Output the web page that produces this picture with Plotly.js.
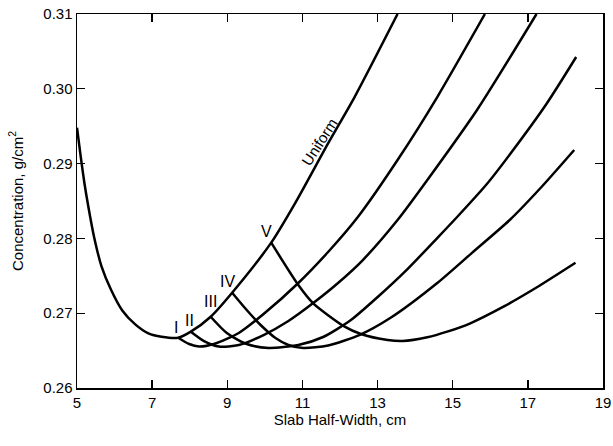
<!DOCTYPE html>
<html>
<head>
<meta charset="utf-8">
<script src="https://cdn.plot.ly/plotly-3.0.1.min.js"></script>
<style>html,body{margin:0;padding:0;background:#fff;}#chart{width:613px;height:446px;}</style>
</head>
<body>
<div id="chart"></div>
<script>
// Uniform loading curve
const uniformX = [5.00, 5.10, 5.20, 5.30, 5.45, 5.65, 5.90, 6.20, 6.55, 6.90, 7.25, 7.694, 8.030, 8.558, 9.129, 10.169, 10.803, 11.683, 12.388, 13.532];
const uniformY = [0.2948, 0.2909, 0.2873, 0.2843, 0.2803, 0.2763, 0.2732, 0.2704, 0.2685, 0.2673, 0.26685, 0.26672, 0.26753, 0.26953, 0.27274, 0.27943, 0.28469, 0.29271, 0.2989, 0.3100];

// Branch I
const branchIX = [7.694, 7.985, 8.249, 8.645, 9.306, 9.966, 10.891, 11.683, 12.475, 13.532, 14.589, 15.857];
const branchIY = [0.26672, 0.26588, 0.26555, 0.26588, 0.26735, 0.26989, 0.27404, 0.27818, 0.28286, 0.29048, 0.29890, 0.3100];

// Branch II
const branchIIX = [8.030, 8.381, 8.777, 9.306, 9.966, 10.627, 11.287, 11.948, 12.608, 13.532, 14.325, 15.646, 17.230];
const branchIIY = [0.26753, 0.26628, 0.26555, 0.26575, 0.26708, 0.26896, 0.27136, 0.27404, 0.27711, 0.28246, 0.28781, 0.29717, 0.3100];

// Branch III
const branchIIIX = [8.558, 8.989, 9.517, 10.098, 10.891, 11.551, 12.290, 13.003, 13.796, 14.589, 15.117, 15.909, 16.569, 17.494, 18.286];
const branchIIIY = [0.26953, 0.26735, 0.26588, 0.26535, 0.26575, 0.26682, 0.26909, 0.27217, 0.27590, 0.28005, 0.28286, 0.28727, 0.29155, 0.29797, 0.30425];

// Branch IV
const branchIVX = [9.129, 9.517, 9.887, 10.283, 10.627, 11.023, 11.683, 12.528, 13.347, 14.589, 15.513, 16.517, 17.362, 18.234];
const branchIVY = [0.27274, 0.27043, 0.26842, 0.26668, 0.26575, 0.26535, 0.26568, 0.26711, 0.26939, 0.27404, 0.27807, 0.28246, 0.28687, 0.29182];

// Branch V
const branchVX = [10.169, 10.891, 11.287, 12.124, 12.555, 13.268, 13.664, 14.325, 14.853, 15.468, 16.351, 17.230, 18.268];
const branchVY = [0.27943, 0.27377, 0.27132, 0.26820, 0.26722, 0.26642, 0.26628, 0.26678, 0.26753, 0.26865, 0.27087, 0.27343, 0.27674];

// Labels
const labelText = ["I", "II", "III", "IV", "V"];
const labelX = [7.63, 7.985, 8.54, 9.01, 10.04];
const labelY = [0.26815, 0.26896, 0.27163, 0.2743, 0.28086];

const xTicks = [5, 7, 9, 11, 13, 15, 17, 19];
const yTicks = [0.26, 0.27, 0.28, 0.29, 0.30, 0.31];

const FONT = "Liberation Sans, Arial, sans-serif";
const lineStyle = {color: "#000", width: 2.5, shape: "spline", smoothing: 0.7};

const series = [
  [uniformX, uniformY], [branchIX, branchIY], [branchIIX, branchIIY],
  [branchIIIX, branchIIIY], [branchIVX, branchIVY], [branchVX, branchVY]
];
const traces = series.map(s => ({
  x: s[0], y: s[1], mode: "lines", type: "scatter",
  line: lineStyle, hoverinfo: "skip", showlegend: false
}));

const annotations = labelText.map((t, i) => ({
  x: labelX[i], y: labelY[i], xref: "x", yref: "y", text: t, showarrow: false,
  font: {family: FONT, size: 16, color: "#000"}
}));
annotations.push({
  x: 11.46, y: 0.29295, xref: "x", yref: "y", text: "Uniform", showarrow: false,
  textangle: -57, font: {family: FONT, size: 15, color: "#000"}
});

const axisCommon = {
  showgrid: false, zeroline: false, showline: true, linecolor: "#000", linewidth: 1.5,
  mirror: "ticks", ticks: "inside", ticklen: 8, tickwidth: 1.3, tickcolor: "#000",
  ticklabeloverflow: "allow",
  tickfont: {family: FONT, size: 15, color: "#000"}
};

const layout = {
  width: 613, height: 446,
  margin: {l: 77, r: 10, t: 14, b: 58},
  paper_bgcolor: "#fff", plot_bgcolor: "#fff",
  xaxis: Object.assign({}, axisCommon, {
    range: [5, 19], tickvals: xTicks, ticktext: xTicks.map(String),
    title: {text: "Slab Half-Width, cm", font: {family: FONT, size: 15, color: "#000"}, standoff: 5}
  }),
  yaxis: Object.assign({}, axisCommon, {
    range: [0.26, 0.31], tickvals: yTicks, ticktext: yTicks.map(v => v.toFixed(2)),
    title: {text: "Concentration, g/cm<sup>2</sup>", font: {family: FONT, size: 15, color: "#000"}, standoff: 16}
  }),
  annotations: annotations
};

Plotly.newPlot("chart", traces, layout, {displayModeBar: false, staticPlot: true});
</script>
</body>
</html>
